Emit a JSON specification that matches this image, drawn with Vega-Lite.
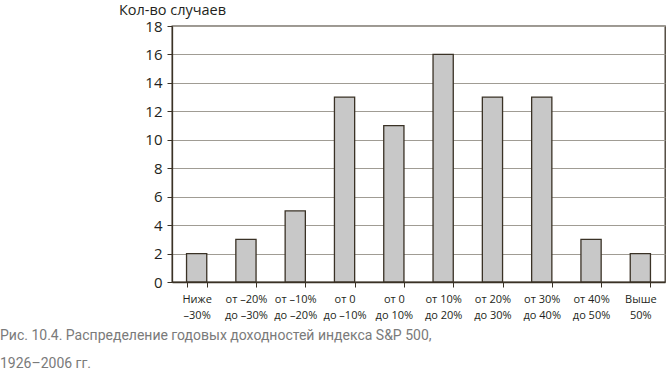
{
  "$schema": "https://vega.github.io/schema/vega-lite/v6.json",
  "width": 493,
  "height": 256,
  "autosize": {"type": "none"},
  "padding": {"left": 172, "top": 26, "right": 1, "bottom": 92},
  "background": "white",
  "config": {
    "view": {"stroke": "#3a3226", "strokeWidth": 1.3},
    "font": "Open Sans"
  },
  "title": {
    "text": ["Рис. 10.4. Распределение годовых доходностей индекса S&P 500,", "1926–2006 гг."],
    "orient": "bottom",
    "anchor": "start",
    "frame": "group",
    "dx": -172,
    "offset": 9,
    "font": "Roboto",
    "fontSize": 14,
    "fontWeight": "normal",
    "color": "#7a7a7a",
    "lineHeight": 28
  },
  "data": {
    "values": [
      {"range": "Ниже\n–30%", "count": 2},
      {"range": "от –20%\nдо –30%", "count": 3},
      {"range": "от –10%\nдо –20%", "count": 5},
      {"range": "от 0\nдо –10%", "count": 13},
      {"range": "от 0\nдо 10%", "count": 11},
      {"range": "от 10%\nдо 20%", "count": 16},
      {"range": "от 20%\nдо 30%", "count": 13},
      {"range": "от 30%\nдо 40%", "count": 13},
      {"range": "от 40%\nдо 50%", "count": 3},
      {"range": "Выше\n50%", "count": 2}
    ]
  },
  "mark": {"type": "bar", "fill": "#c8c8c8", "stroke": "#3a3226", "strokeWidth": 1.3},
  "encoding": {
    "x": {
      "field": "range",
      "type": "nominal",
      "sort": null,
      "scale": {"paddingInner": 0.59, "paddingOuter": 0.295},
      "axis": {
        "title": null,
        "labelAngle": 0,
        "labelExpr": "split(datum.label, '\\n')",
        "labelFont": "Open Sans",
        "labelFontSize": 11,
        "labelLineHeight": 16,
        "labelColor": "#231f20",
        "labelPadding": 6,
        "tickBand": "extent",
        "tickSize": 5,
        "tickColor": "#3a3226",
        "domainColor": "#3a3226",
        "domainWidth": 1.3,
        "labelBaseline": "top"
      }
    },
    "y": {
      "field": "count",
      "type": "quantitative",
      "scale": {"domain": [0, 18], "nice": false},
      "axis": {
        "values": [0, 2, 4, 6, 8, 10, 12, 14, 16, 18],
        "title": "Кол-во случаев",
        "titleAngle": 0,
        "titleX": 0,
        "titleY": -12,
        "titleAlign": "center",
        "titleBaseline": "alphabetic",
        "titleFont": "Open Sans",
        "titleFontSize": 14.5,
        "titleFontWeight": "normal",
        "titleColor": "#231f20",
        "labelFont": "Open Sans",
        "labelFontSize": 15,
        "labelColor": "#231f20",
        "labelPadding": 5,
        "tickSize": 5,
        "tickColor": "#3a3226",
        "domainColor": "#3a3226",
        "domainWidth": 1.3,
        "grid": true,
        "gridColor": "#a09c94",
        "gridWidth": 1.2
      }
    }
  }
}
